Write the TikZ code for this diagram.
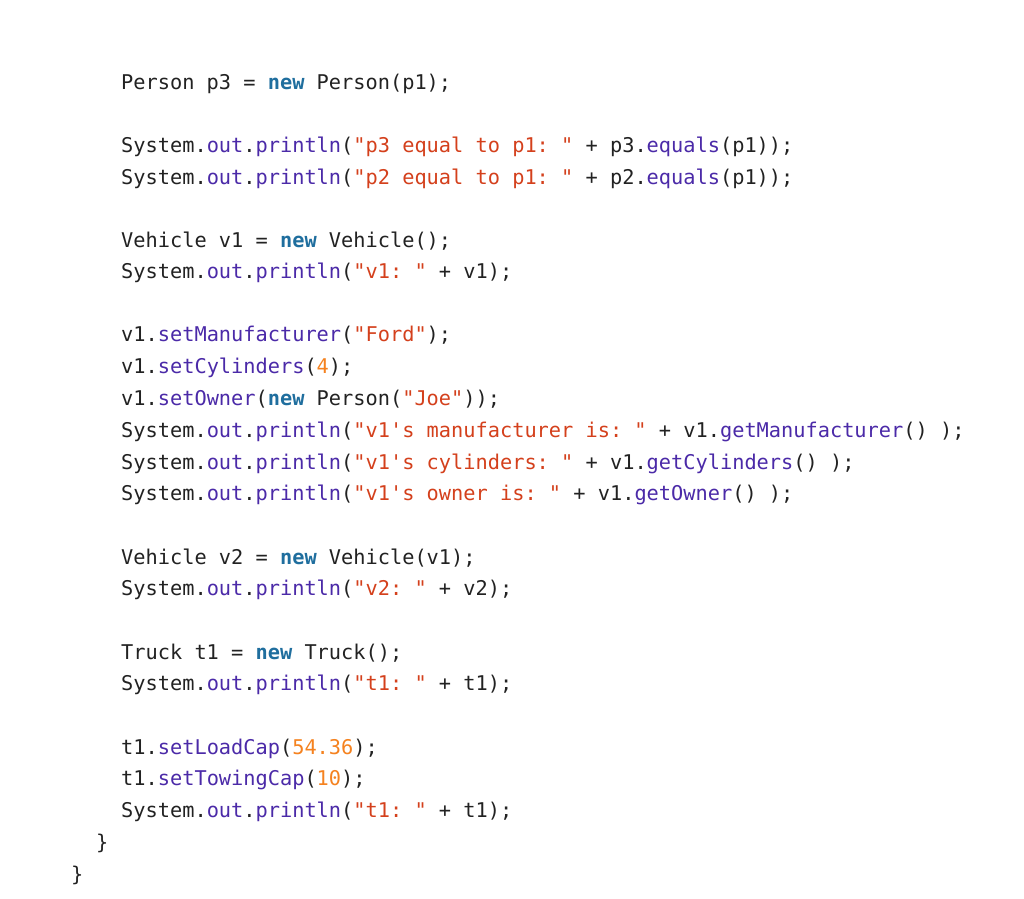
\documentclass[tikz,border=0pt]{standalone}
\usepackage{fontspec}
\setmonofont{DejaVu Sans Mono}
\definecolor{kwc}{HTML}{1F6E9E}
\definecolor{mtc}{HTML}{4B2AA8}
\definecolor{stc}{HTML}{D4401C}
\definecolor{nmc}{HTML}{F5821F}
\definecolor{txc}{HTML}{222222}
\newcommand{\cK}[1]{\textcolor{kwc}{\bfseries #1}}
\newcommand{\cM}[1]{\textcolor{mtc}{#1}}
\newcommand{\cS}[1]{\textcolor{stc}{#1}}
\newcommand{\cN}[1]{\textcolor{nmc}{#1}}
\newcommand{\SOP}{System.\cM{out}.\cM{println}}
\begin{document}
\begin{tikzpicture}[x=1pt,y=-1pt,
  code/.style={anchor=base west,inner sep=0pt,text=txc,font=\fontsize{20.3pt}{24pt}\selectfont\ttfamily}]
\useasboundingbox[fill=white] (0,0) rectangle (1024,898);
\node[code] (l1) at (121,89) {Person p3 = \cK{new} Person(p1);};
\node[code] (l2) at (121,152) {\SOP(\cS{"p3 equal to p1: "} + p3.\cM{equals}(p1));};
\node[code] (l3) at (121,184) {\SOP(\cS{"p2 equal to p1: "} + p2.\cM{equals}(p1));};
\node[code] (l4) at (121,247) {Vehicle v1 = \cK{new} Vehicle();};
\node[code] (l5) at (121,278) {\SOP(\cS{"v1: "} + v1);};
\node[code] (l6) at (121,341) {v1.\cM{setManufacturer}(\cS{"Ford"});};
\node[code] (l7) at (121,373) {v1.\cM{setCylinders}(\cN{4});};
\node[code] (l8) at (121,405) {v1.\cM{setOwner}(\cK{new} Person(\cS{"Joe"}));};
\node[code] (l9) at (121,437) {\SOP(\cS{"v1's manufacturer is: "} + v1.\cM{getManufacturer}() );};
\node[code] (l10) at (121,469) {\SOP(\cS{"v1's cylinders: "} + v1.\cM{getCylinders}() );};
\node[code] (l11) at (121,500) {\SOP(\cS{"v1's owner is: "} + v1.\cM{getOwner}() );};
\node[code] (l12) at (121,564) {Vehicle v2 = \cK{new} Vehicle(v1);};
\node[code] (l13) at (121,595) {\SOP(\cS{"v2: "} + v2);};
\node[code] (l14) at (121,659) {Truck t1 = \cK{new} Truck();};
\node[code] (l15) at (121,690) {\SOP(\cS{"t1: "} + t1);};
\node[code] (l16) at (121,754) {t1.\cM{setLoadCap}(\cN{54.36});};
\node[code] (l17) at (121,785) {t1.\cM{setTowingCap}(\cN{10});};
\node[code] (l18) at (121,817) {\SOP(\cS{"t1: "} + t1);};
\node[code] (b1) at (96,849) {\}};
\node[code] (b2) at (71,881) {\}};
\end{tikzpicture}
\end{document}
